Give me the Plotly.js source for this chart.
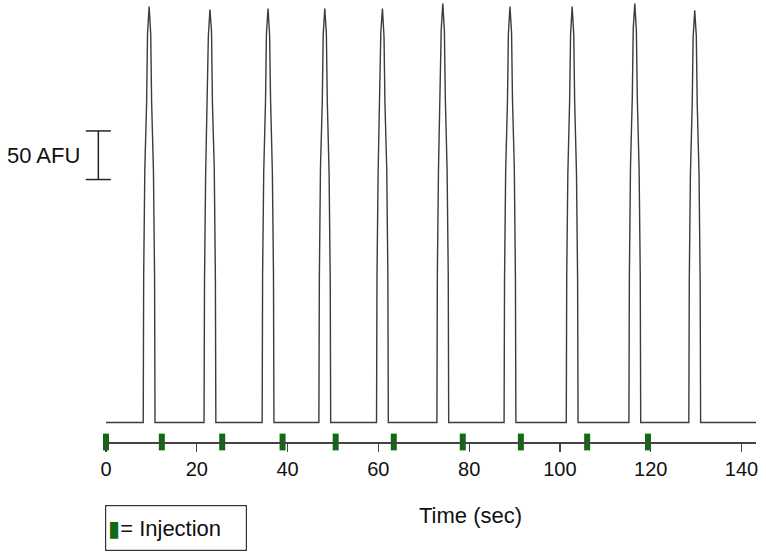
<!DOCTYPE html>
<html>
<head>
<meta charset="utf-8">
<script src="https://cdn.plot.ly/plotly-3.0.1.min.js"></script>
<style>
  html, body { margin: 0; padding: 0; background: #fff; }
  #graph { width: 766px; height: 558px; }
</style>
</head>
<body>
<div id="graph"></div>
<script>
// fluorescence trace, time in seconds, signal in AFU (baseline = 0)
const timeSec = [
  0,
  8.2, 8.3, 8.55, 8.95, 9.15, 9.5, 9.85, 10.05, 10.45, 10.7, 10.8,
  21.6, 21.7, 21.95, 22.35, 22.55, 22.9, 23.25, 23.45, 23.85, 24.1, 24.2,
  34.4, 34.5, 34.75, 35.15, 35.35, 35.7, 36.05, 36.25, 36.65, 36.9, 37.0,
  46.9, 47.0, 47.25, 47.65, 47.85, 48.2, 48.55, 48.75, 49.15, 49.4, 49.5,
  59.6, 59.7, 59.95, 60.35, 60.55, 60.9, 61.25, 61.45, 61.85, 62.1, 62.2,
  72.9, 73.0, 73.25, 73.65, 73.85, 74.2, 74.55, 74.75, 75.15, 75.4, 75.5,
  87.7, 87.8, 88.05, 88.45, 88.65, 89.0, 89.35, 89.55, 89.95, 90.2, 90.3,
  101.4, 101.5, 101.75, 102.15, 102.35, 102.7, 103.05, 103.25, 103.65, 103.9, 104.0,
  115.2, 115.3, 115.55, 115.95, 116.15, 116.5, 116.85, 117.05, 117.45, 117.7, 117.8,
  128.4, 128.5, 128.75, 129.15, 129.35, 129.7, 130.05, 130.25, 130.65, 130.9, 131.0,
  143.2
];
const signalAfu = [
  0,
  0, 150, 260, 330, 400, 428, 400, 330, 260, 150, 0,
  0, 145, 255, 335, 398, 425, 402, 328, 262, 148, 0,
  0, 152, 258, 332, 401, 426, 398, 333, 258, 152, 0,
  0, 148, 262, 330, 399, 426, 400, 331, 256, 146, 0,
  0, 150, 257, 334, 402, 426, 397, 329, 261, 150, 0,
  0, 153, 261, 336, 404, 431, 403, 335, 259, 151, 0,
  0, 147, 259, 331, 400, 428, 401, 332, 263, 149, 0,
  0, 151, 256, 333, 399, 428, 399, 330, 257, 147, 0,
  0, 149, 263, 335, 405, 431, 402, 334, 260, 152, 0,
  0, 146, 255, 329, 396, 424, 398, 328, 256, 145, 0,
  0
];

// injection times (sec)
const injectionSec = [0, 12.3, 25.6, 38.9, 50.6, 63.4, 78.6, 91.4, 106.0, 119.4];
const tickVals = [0, 20, 40, 60, 80, 100, 120, 140];
const axisLevel = -20;   // AFU level where the time axis sits
const scaleBarAfu = [250, 300];

const green = '#0f6a14';
const ink = '#3c3c3c';

let trace = {
  x: timeSec,
  y: signalAfu,
  type: 'scatter',
  mode: 'lines',
  line: { color: ink, width: 1.4 },
  hoverinfo: 'skip',
  showlegend: false
};

let injections = {
  x: injectionSec,
  y: injectionSec.map(() => axisLevel),
  type: 'scatter',
  mode: 'markers',
  marker: { symbol: 'line-ns', size: 12, line: { color: green, width: 6 } },
  cliponaxis: false,
  hoverinfo: 'skip',
  showlegend: false
};

const barX = -0.0118;
let layout = {
  width: 766,
  height: 558,
  margin: { l: 106, r: 10, t: 0, b: 116 },
  paper_bgcolor: '#fff',
  plot_bgcolor: '#fff',
  font: { family: 'Liberation Sans, Arial, sans-serif', color: '#111' },
  xaxis: {
    range: [0, 143.2],
    showline: true,
    linecolor: '#444',
    linewidth: 1.5,
    ticks: 'outside',
    ticklen: 8,
    tickwidth: 1.2,
    tickcolor: '#444',
    tickvals: tickVals,
    ticktext: tickVals.map(String),
    tickfont: { size: 20 },
    showgrid: false,
    zeroline: false
  },
  yaxis: {
    range: [axisLevel, 434.7],
    visible: false,
    showgrid: false,
    zeroline: false
  },
  shapes: [
    { type: 'line', xref: 'paper', yref: 'y', x0: barX, x1: barX, y0: scaleBarAfu[0], y1: scaleBarAfu[1],
      line: { color: '#222', width: 1.5 } },
    { type: 'line', xref: 'paper', yref: 'y', xsizemode: 'pixel', xanchor: barX, x0: -12.5, x1: 12.5,
      y0: scaleBarAfu[0], y1: scaleBarAfu[0], line: { color: '#222', width: 1.5 } },
    { type: 'line', xref: 'paper', yref: 'y', xsizemode: 'pixel', xanchor: barX, x0: -12.5, x1: 12.5,
      y0: scaleBarAfu[1], y1: scaleBarAfu[1], line: { color: '#222', width: 1.5 } }
  ],
  annotations: [
    { text: '50 AFU', xref: 'paper', yref: 'y', x: -0.037, y: (scaleBarAfu[0] + scaleBarAfu[1]) / 2,
      xanchor: 'right', yanchor: 'middle', showarrow: false, font: { size: 22 } },
    { text: 'Time (sec)', xref: 'paper', yref: 'paper', x: 0.56, y: -0.167,
      xanchor: 'center', yanchor: 'middle', showarrow: false, font: { size: 22 } },
    { text: '<span style="color:' + green + '">▮</span>= Injection', xref: 'paper', yref: 'paper',
      x: -0.0015, y: -0.1425, xanchor: 'left', yanchor: 'top', showarrow: false,
      width: 136, height: 40, align: 'left', borderpad: 2,
      bordercolor: '#333', borderwidth: 1.2, font: { size: 22 } }
  ]
};

Plotly.newPlot('graph', [trace, injections], layout, { staticPlot: true });
</script>
</body>
</html>
